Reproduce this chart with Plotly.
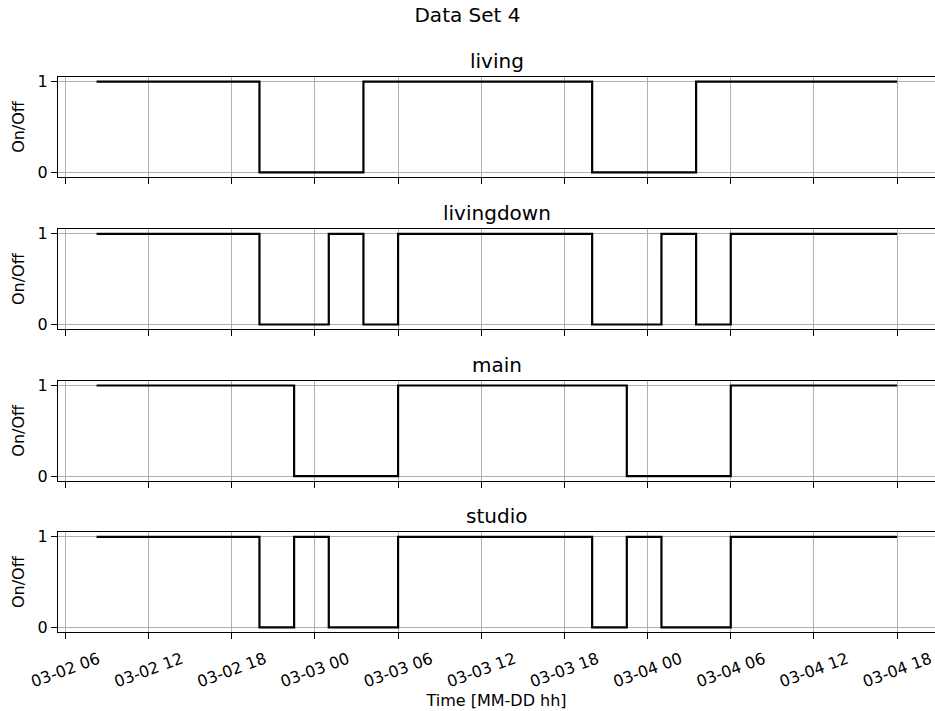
import plotly.graph_objects as go

# ---------------- data ----------------
series_names = ["living", "livingdown", "main", "studio"]

living_times = ["2023-03-02 08:15", "2023-03-02 20:00", "2023-03-03 03:30",
                "2023-03-03 20:00", "2023-03-04 03:30", "2023-03-04 18:00"]
living_states = [1, 0, 1, 0, 1, 1]

livingdown_times = ["2023-03-02 08:15", "2023-03-02 20:00", "2023-03-03 01:00",
                    "2023-03-03 03:30", "2023-03-03 06:00", "2023-03-03 20:00",
                    "2023-03-04 01:00", "2023-03-04 03:30", "2023-03-04 06:00",
                    "2023-03-04 18:00"]
livingdown_states = [1, 0, 1, 0, 1, 0, 1, 0, 1, 1]

main_times = ["2023-03-02 08:15", "2023-03-02 22:30", "2023-03-03 06:00",
              "2023-03-03 22:30", "2023-03-04 06:00", "2023-03-04 18:00"]
main_states = [1, 0, 1, 0, 1, 1]

studio_times = ["2023-03-02 08:15", "2023-03-02 20:00", "2023-03-02 22:30",
                "2023-03-03 01:00", "2023-03-03 06:00", "2023-03-03 20:00",
                "2023-03-03 22:30", "2023-03-04 01:00", "2023-03-04 06:00",
                "2023-03-04 18:00"]
studio_states = [1, 0, 1, 0, 1, 0, 1, 0, 1, 1]

all_times = [living_times, livingdown_times, main_times, studio_times]
all_states = [living_states, livingdown_states, main_states, studio_states]

y_tick_values = [0, 1]
y_tick_labels = ["0", "1"]
main_title = "Data Set 4"
x_title = "Time [MM-DD hh]"
y_title = "On/Off"

# ---------------- layout ----------------
W, H = 935, 711
M_T, M_B, M_L, M_R = 77, 79, 58, 0
domains = [[0.8198, 1.0], [0.5459, 0.7256], [0.2726, 0.4523], [0.0, 0.1796]]
x_range = ["2023-03-02 05:28", "2023-03-04 20:44"]
FONT = "DejaVu Sans"

fig = go.Figure()

for i, (name, t, s) in enumerate(zip(series_names, all_times, all_states)):
    n = i + 1
    fig.add_trace(go.Scatter(
        x=t, y=s, mode="lines", line=dict(color="black", width=2.2, shape="hv"),
        xaxis=f"x{n}" if n > 1 else "x", yaxis=f"y{n}" if n > 1 else "y",
        showlegend=False, hoverinfo="skip"))

    xkey = "xaxis" if n == 1 else f"xaxis{n}"
    ykey = "yaxis" if n == 1 else f"yaxis{n}"
    xa = dict(
        domain=[0, 1], anchor="y" if n == 1 else f"y{n}",
        type="date", range=x_range,
        tick0="2023-03-02 00:00", dtick=6 * 3600 * 1000, tickformat="%m-%d %H",
        showline=True, linecolor="black", linewidth=1.3, mirror=True,
        ticks="outside", ticklen=6, tickwidth=1.3, tickcolor="black",
        showgrid=True, gridcolor="#b0b0b0", gridwidth=1.1, zeroline=False,
        showticklabels=(n == 4), tickangle=-20,
        ticklabelshift=33, ticklabelstandoff=5, ticklabeloverflow="allow",
        tickfont=dict(family=FONT, size=16, color="black"),
    )
    if n > 1:
        xa["matches"] = "x"
    if n == 4:
        xa["title"] = dict(text=x_title, font=dict(family=FONT, size=16, color="black"), standoff=3)
    fig.update_layout({xkey: xa})

    ya = dict(
        domain=domains[i], anchor="x" if n == 1 else f"x{n}",
        range=[-0.05, 1.05], tickvals=y_tick_values, ticktext=y_tick_labels,
        showline=True, linecolor="black", linewidth=1.3, mirror=False,
        ticks="outside", ticklen=6, tickwidth=1.3, tickcolor="black",
        showgrid=True, gridcolor="#b0b0b0", gridwidth=1.1, zeroline=False,
        tickfont=dict(family=FONT, size=16, color="black"),
        title=dict(text=y_title, font=dict(family=FONT, size=16, color="black"), standoff=8),
    )
    fig.update_layout({ykey: ya})

    fig.add_annotation(
        text=name, xref="paper", yref="paper", x=0.5, y=domains[i][1],
        xanchor="center", yanchor="bottom", yshift=2, showarrow=False,
        font=dict(family=FONT, size=20, color="black"))

fig.update_layout(
    width=W, height=H,
    margin=dict(t=M_T, b=M_B, l=M_L, r=M_R),
    paper_bgcolor="white", plot_bgcolor="white",
    title=dict(text=main_title, x=0.5, xanchor="center", y=1 - 15 / H, yanchor="middle",
               font=dict(family=FONT, size=20, color="black")),
    font=dict(family=FONT, color="black"),
)

fig.write_html("out.html")
